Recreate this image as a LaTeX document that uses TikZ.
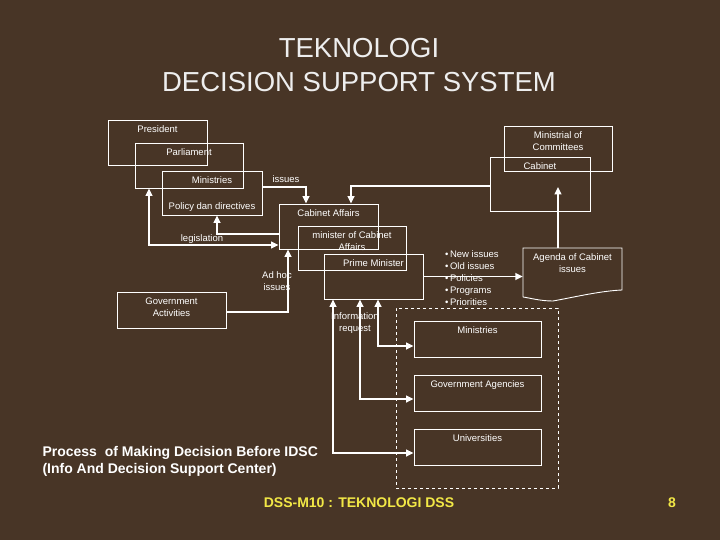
\documentclass[tikz,border=0pt]{standalone}
\usepackage{fontspec}
\setmainfont{Liberation Sans}
\usetikzlibrary{arrows.meta, calc}
\definecolor{woodbrown}{RGB}{72, 53, 38}
\definecolor{titlegray}{RGB}{238, 238, 238}
\definecolor{footyellow}{RGB}{242, 232, 70}

\begin{document}
\begin{tikzpicture}[x=1pt, y=-1pt,
  ibox/.style={draw=white, line width=0.9pt, inner sep=0pt},
  boxtxt/.style={anchor=north, inner xsep=2pt, inner ysep=6pt, text=white, align=center, font=\fontsize{9.5}{12}\selectfont},
  toptext/.style={label={[boxtxt]north:{#1}}},
  bottext/.style={label={[boxtxt, anchor=south, inner ysep=4pt]south:{#1}}},
  smalltxt/.style={text=white, align=center, inner sep=1pt, font=\fontsize{9.5}{12}\selectfont},
  conn/.style={draw=white, line width=1.5pt, -{Triangle[length=7.5pt, width=7pt]}},
  conn2/.style={draw=white, line width=1.5pt, {Triangle[length=7.5pt, width=7pt]}-{Triangle[length=7.5pt, width=7pt]}}
]
  \useasboundingbox[fill=woodbrown] (0,0) rectangle (720,540);

  \node[font=\fontsize{27.5}{34}\selectfont, text=titlegray, align=center] (title) at (359,65) {TEKNOLOGI\\DECISION SUPPORT SYSTEM};

  \node[ibox, minimum width=99pt, minimum height=45pt, toptext=President] (pres) at (157.5,142.5) {};
  \node[ibox, minimum width=108pt, minimum height=45pt, toptext=Parliament] (parl) at (189,165.5) {};
  \node[ibox, minimum width=100pt, minimum height=44pt, toptext=Ministries, bottext=Policy dan directives] (mindir) at (212,193) {};
  \node[ibox, minimum width=108pt, minimum height=45pt, toptext={Ministrial of\\Committees}] (mincom) at (558,148.5) {};
  \node[ibox, minimum width=100pt, minimum height=54pt, toptext=Cabinet] (cab) at (540,184) {};
  \node[ibox, minimum width=99pt, minimum height=45pt, toptext=Cabinet Affairs] (caff) at (328.5,226.5) {};
  \node[ibox, minimum width=108pt, minimum height=44pt, toptext={minister of Cabinet\\Affairs}] (mcaff) at (352,248) {};
  \node[ibox, minimum width=99pt, minimum height=45pt, toptext=Prime Minister] (pm) at (373.5,276.5) {};
  \node[ibox, minimum width=109pt, minimum height=36pt, toptext={Government\\Activities}] (govact) at (171.5,310) {};

  \node[ibox, dashed, minimum width=162pt, minimum height=180pt] (idsc) at (477,398) {};
  \node[ibox, minimum width=127pt, minimum height=36pt, toptext=Ministries] (mins) at (477.5,339) {};
  \node[ibox, minimum width=127pt, minimum height=36pt, toptext=Government Agencies] (agen) at (477.5,393) {};
  \node[ibox, minimum width=127pt, minimum height=36pt, toptext=Universities] (univ) at (477.5,447) {};

  \node[inner sep=0pt, minimum width=99pt, minimum height=48pt, toptext={Agenda of Cabinet\\issues}] (agenda) at (572.5,272) {};
  \draw[white, line width=0.9pt] (523,297) -- (523,248) -- (622,248) -- (622,290)
    .. controls (600,291) and (575,297) .. (553,301)
    .. controls (540,301) and (530,298) .. (523,297);

  \node[smalltxt, anchor=west, align=left] (items) at (444,278) {\textbullet\,New issues\\\textbullet\,Old issues\\\textbullet\,Policies\\\textbullet\,Programs\\\textbullet\,Priorities};

  \draw[conn] ([yshift=6pt]mindir.east) -| ([xshift=-22.5pt]caff.north);
  \node[smalltxt] (lissues) at (286,179) {issues};
  \draw[conn] ([yshift=-2pt]cab.west) -| ([xshift=22.5pt]caff.north);
  \draw[conn] ([xshift=-14.5pt]agenda.north) -- ([xshift=18pt, yshift=-3pt]cab.center);
  \draw[conn2] ([xshift=-40pt]parl.south) |- ([yshift=-18.5pt]caff.west);
  \node[smalltxt] (llegis) at (202,239) {legislation};
  \draw[conn] ([yshift=-7.5pt]caff.west) -| ([xshift=5pt]mindir.south);
  \draw[conn] ([yshift=-2pt]govact.east) -| ([xshift=-40.5pt]caff.south);
  \node[smalltxt] (ladhoc) at (277,281) {Ad hoc\\issues};
  \draw[conn] (pm.east) -- (pm.east -| agenda.west);

  \draw[conn2] ([xshift=4.5pt]pm.south) |- ([yshift=-7pt]mins.west);
  \draw[conn2] ([xshift=-13.5pt]pm.south) |- ([yshift=-6pt]agen.west);
  \draw[conn2] ([xshift=-40.5pt]pm.south) |- ([yshift=-6pt]univ.west);
  \node[smalltxt] (linfo) at (355,323) {Information\\request};

  \node[anchor=west, align=left, text=white, font=\bfseries\fontsize{14}{17}\selectfont] (caption) at (39,461) {Process\ \ of Making Decision Before IDSC\\(Info And Decision Support Center)};
  \node[text=footyellow, font=\bfseries\fontsize{14}{17}\selectfont] (footer) at (359,503) {DSS-M10 : TEKNOLOGI DSS};
  \node[text=footyellow, font=\bfseries\fontsize{14}{17}\selectfont] (pageno) at (672,503) {8};
\end{tikzpicture}
\end{document}
